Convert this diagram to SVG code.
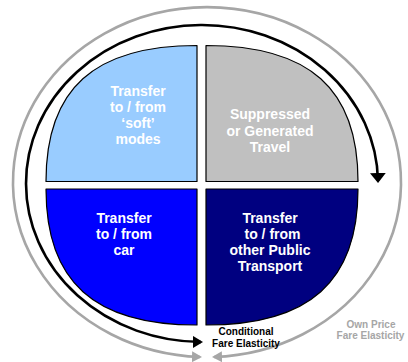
<svg xmlns="http://www.w3.org/2000/svg" width="408" height="362" viewBox="0 0 408 362">
<style>
.q{stroke:#000;stroke-width:1.2;stroke-linejoin:round}
.t{font-family:"Liberation Sans",Arial,sans-serif;font-weight:bold;font-size:14px;fill:#fff;text-anchor:middle}
.s{font-family:"Liberation Sans",Arial,sans-serif;font-weight:bold;font-size:10px;text-anchor:middle}
.blk{fill:none;stroke:#000;stroke-width:2.6}
.gry{fill:none;stroke:#a6a6a6;stroke-width:2.6}
</style>
<defs>
<marker id="ab" viewBox="0 0 10 12" refX="8" refY="6" markerWidth="10" markerHeight="12" markerUnits="userSpaceOnUse" orient="auto-start-reverse"><path d="M0,0 L10,6 L0,12 Z" fill="#000"/></marker>
<marker id="ae" viewBox="0 0 10 16" refX="8" refY="8" markerWidth="10" markerHeight="16" markerUnits="userSpaceOnUse" orient="auto-start-reverse"><path d="M0,0 L10,8 L0,16 Z" fill="#000"/></marker>
<marker id="ag" viewBox="0 0 10 11" refX="8" refY="5.5" markerWidth="10" markerHeight="11" markerUnits="userSpaceOnUse" orient="auto-start-reverse"><path d="M0,0 L10,5.5 L0,11 Z" fill="#a6a6a6"/></marker>
</defs>
<g id="connectors">
<path id="own-price" class="gry" d="M200,357 A194,175 0 1 1 214,357" marker-start="url(#ag)" marker-end="url(#ag)"/>
<path id="conditional" class="blk" d="M201,342 A176,158.5 0 1 1 378,181" marker-start="url(#ab)" marker-end="url(#ae)"/>
</g>
<g id="soft">
<path class="q" fill="#99ccff" d="M197,181.5 L46,181.5 C46,89 94,45.5 197,45.5 Z"/>
<text class="t"><tspan x="138" y="96">Transfer</tspan><tspan x="138" y="112">to / from</tspan><tspan x="138" y="128">‘soft’</tspan><tspan x="138" y="144">modes</tspan></text>
</g>
<g id="suppressed">
<path class="q" fill="#c0c0c0" d="M206,181.5 L206,45.5 C309.4,45.5 358,89 358,181.5 Z"/>
<text class="t"><tspan x="270" y="119">Suppressed</tspan><tspan x="270" y="135.5">or Generated</tspan><tspan x="270" y="152">Travel</tspan></text>
</g>
<g id="car">
<path class="q" fill="#0000ff" d="M197,189 L46,189 C46,281.5 94,325 197,325 Z"/>
<text class="t"><tspan x="124" y="223">Transfer</tspan><tspan x="124" y="239">to / from</tspan><tspan x="124" y="255">car</tspan></text>
</g>
<g id="public">
<path class="q" fill="#000080" d="M206,189 L358,189 C358,281.5 309.4,325 206,325 Z"/>
<text class="t"><tspan x="270" y="223">Transfer</tspan><tspan x="272.5" y="239">to / from</tspan><tspan x="270" y="255">other Public</tspan><tspan x="270" y="271">Transport</tspan></text>
</g>
<g id="labels">
<text class="s" fill="#000"><tspan x="246" y="335">Conditional</tspan><tspan x="246" y="346.5">Fare Elasticity</tspan></text>
<text class="s" fill="#a6a6a6"><tspan x="371" y="327.5">Own Price</tspan><tspan x="370.5" y="339">Fare Elasticity</tspan></text>
</g>
</svg>
